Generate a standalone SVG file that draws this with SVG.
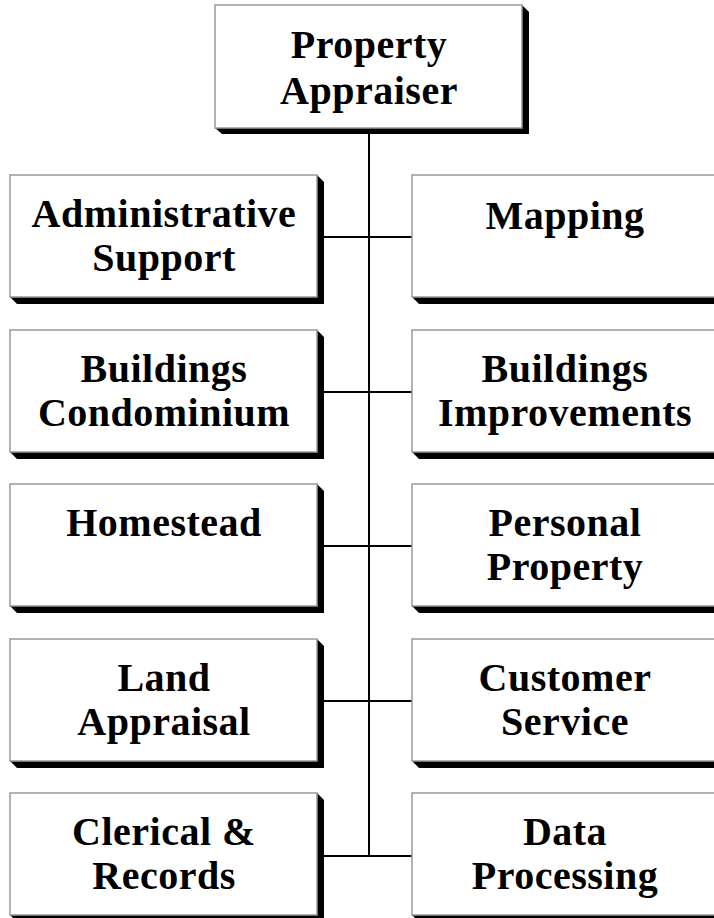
<svg xmlns="http://www.w3.org/2000/svg" width="714" height="918" viewBox="0 0 714 918">
<defs>
<style>
.box{fill:#fff;stroke:#999;stroke-width:1.5}
.sh{fill:#000}
.t{font-family:"Liberation Serif","Times New Roman",serif;font-weight:bold;font-size:40px;text-anchor:middle;fill:#000;letter-spacing:0.5px}
.ln{stroke:#000;stroke-width:2;fill:none}
</style>
</defs>
<rect width="714" height="918" fill="#fff"/>
<g id="connectors">
<line class="ln" x1="369" y1="128" x2="369" y2="856"/>
<line class="ln" x1="317" y1="237" x2="412" y2="237"/>
<line class="ln" x1="317" y1="392" x2="412" y2="392"/>
<line class="ln" x1="317" y1="546" x2="412" y2="546"/>
<line class="ln" x1="317" y1="701" x2="412" y2="701"/>
<line class="ln" x1="317" y1="856" x2="412" y2="856"/>
</g>
<g id="property-appraiser">
<path class="sh" d="M522,5 L529,12 L529,134 L222,134 L215,128 Z"/>
<rect class="box" x="215" y="5" width="307" height="123"/>
<text class="t" x="369" y="58">Property</text>
<text class="t" x="369" y="104">Appraiser</text>
</g>
<g id="administrative-support">
<path class="sh" d="M317,175 L324,182 L324,304 L17,304 L10,297 Z"/>
<rect class="box" x="10" y="175" width="307" height="122"/>
<text class="t" x="164" y="227">Administrative</text>
<text class="t" x="164" y="271">Support</text>
</g>
<g id="mapping">
<path class="sh" d="M719,175 L726,182 L726,304 L419,304 L412,297 Z"/>
<rect class="box" x="412" y="175" width="307" height="122"/>
<text class="t" x="565" y="229">Mapping</text>
</g>
<g id="buildings-condominium">
<path class="sh" d="M317,330 L324,337 L324,459 L17,459 L10,452 Z"/>
<rect class="box" x="10" y="330" width="307" height="122"/>
<text class="t" x="164" y="382">Buildings</text>
<text class="t" x="164" y="426">Condominium</text>
</g>
<g id="buildings-improvements">
<path class="sh" d="M719,330 L726,337 L726,459 L419,459 L412,452 Z"/>
<rect class="box" x="412" y="330" width="307" height="122"/>
<text class="t" x="565" y="382">Buildings</text>
<text class="t" x="565" y="426">Improvements</text>
</g>
<g id="homestead">
<path class="sh" d="M317,484 L324,491 L324,613 L17,613 L10,606 Z"/>
<rect class="box" x="10" y="484" width="307" height="122"/>
<text class="t" x="164" y="536">Homestead</text>
</g>
<g id="personal-property">
<path class="sh" d="M719,484 L726,491 L726,613 L419,613 L412,606 Z"/>
<rect class="box" x="412" y="484" width="307" height="122"/>
<text class="t" x="565" y="536">Personal</text>
<text class="t" x="565" y="580">Property</text>
</g>
<g id="land-appraisal">
<path class="sh" d="M317,639 L324,646 L324,768 L17,768 L10,761 Z"/>
<rect class="box" x="10" y="639" width="307" height="122"/>
<text class="t" x="164" y="691">Land</text>
<text class="t" x="164" y="735">Appraisal</text>
</g>
<g id="customer-service">
<path class="sh" d="M719,639 L726,646 L726,768 L419,768 L412,761 Z"/>
<rect class="box" x="412" y="639" width="307" height="122"/>
<text class="t" x="565" y="691">Customer</text>
<text class="t" x="565" y="735">Service</text>
</g>
<g id="clerical-records">
<path class="sh" d="M317,793 L324,800 L324,922 L17,922 L10,915 Z"/>
<rect class="box" x="10" y="793" width="307" height="122"/>
<text class="t" x="164" y="845">Clerical &amp;</text>
<text class="t" x="164" y="889">Records</text>
</g>
<g id="data-processing">
<path class="sh" d="M719,793 L726,800 L726,922 L419,922 L412,915 Z"/>
<rect class="box" x="412" y="793" width="307" height="122"/>
<text class="t" x="565" y="845">Data</text>
<text class="t" x="565" y="889">Processing</text>
</g>
</svg>
